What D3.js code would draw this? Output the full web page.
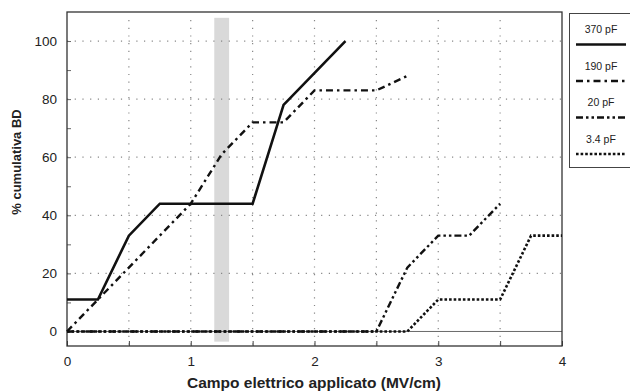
<!DOCTYPE html>
<html>
<head>
<meta charset="utf-8">
<script src="https://cdn.jsdelivr.net/npm/d3@7"></script>
<style>
  body { margin: 0; background: #fff; }
  text { font-family: "Liberation Sans", Arial, sans-serif; fill: #222; }
</style>
</head>
<body>
<svg id="chart" width="630" height="392"></svg>
<script>
// Data
const xTicks = [0, 1, 2, 3, 4];
const yTicks = [0, 20, 40, 60, 80, 100];
const band = [1.19, 1.31];

const s370 = [[0, 11], [0.25, 11], [0.5, 33], [0.75, 44], [1.5, 44], [1.75, 78], [2.25, 100]];
const s190 = [[0, 0], [0.25, 11], [0.5, 22], [0.75, 33], [1, 44], [1.25, 61], [1.5, 72], [1.75, 72], [2, 83], [2.5, 83], [2.75, 88]];
const s20 = [[0, 0], [2.5, 0], [2.75, 22], [3, 33], [3.25, 33], [3.5, 44]];
const s34 = [[0, 0], [2.75, 0], [3, 11], [3.5, 11], [3.75, 33], [4, 33]];

const seriesNames = ["370 pF", "190 pF", "20 pF", "3.4 pF"];
const seriesData = [s370, s190, s20, s34];
const dashes = ["none", "7,4,2.5,4", "7,3,2.5,3,2.5,3", "2.6,2"];
const widths = [2.6, 2.4, 2.4, 2.6];

// Chart config
const margin = {top: 12, right: 68, bottom: 46, left: 67};
const width = 630 - margin.left - margin.right;
const height = 392 - margin.top - margin.bottom;

const svg = d3.select("#chart");
const g = svg.append("g").attr("transform", "translate(" + margin.left + "," + margin.top + ")");

const xScale = d3.scaleLinear().domain([0, 4]).range([0, width]);
const yScale = d3.scaleLinear().domain([-5, 110]).range([height, 0]);

// shaded band
g.append("rect")
  .attr("x", xScale(band[0]))
  .attr("width", xScale(band[1]) - xScale(band[0]))
  .attr("y", yScale(108))
  .attr("height", yScale(-3.5) - yScale(108))
  .attr("fill", "#d9d9d9");

// dotted grid
g.append("g").selectAll("line.vg")
  .data(d3.range(0.5, 4, 0.5))
  .join("line")
  .attr("x1", d => xScale(d)).attr("x2", d => xScale(d))
  .attr("y1", 8).attr("y2", height)
  .attr("stroke", "#888").attr("stroke-width", 1.2)
  .attr("stroke-dasharray", "1.2,6.5");

g.append("g").selectAll("line.hg")
  .data([20, 40, 60, 80, 100])
  .join("line")
  .attr("x1", 0).attr("x2", width)
  .attr("y1", d => yScale(d)).attr("y2", d => yScale(d))
  .attr("stroke", "#888").attr("stroke-width", 1.2)
  .attr("stroke-dasharray", "1.2,6.5");

// zero line
g.append("line")
  .attr("x1", 0).attr("x2", width)
  .attr("y1", yScale(0)).attr("y2", yScale(0))
  .attr("stroke", "#444").attr("stroke-width", 0.8);

// axes with inward ticks
const xAxis = d3.axisBottom(xScale)
  .tickValues(d3.range(0, 4.01, 0.5))
  .tickSize(-5)
  .tickPadding(10)
  .tickFormat(d => xTicks.includes(d) ? d : "");
g.append("g").attr("transform", "translate(0," + height + ")").call(xAxis)
  .call(a => a.select(".domain").remove())
  .call(a => a.selectAll("text").attr("font-size", 13.5).attr("fill", "#222"))
  .call(a => a.selectAll("line").attr("stroke", "#444"));

const yAxis = d3.axisLeft(yScale)
  .tickValues(d3.range(0, 101, 10))
  .tickSize(-4)
  .tickPadding(10)
  .tickFormat(d => yTicks.includes(d) ? d : "");
g.append("g").call(yAxis)
  .call(a => a.select(".domain").remove())
  .call(a => a.selectAll("text").attr("font-size", 13.5).attr("fill", "#222"))
  .call(a => a.selectAll("line").attr("stroke", "#666"));

// frame
g.append("rect")
  .attr("width", width).attr("height", height)
  .attr("fill", "none").attr("stroke", "#333").attr("stroke-width", 1.3);

// lines
const lineGen = d3.line()
  .x(d => xScale(d[0]))
  .y(d => yScale(d[1]));

g.append("g").selectAll("path.series")
  .data(seriesData)
  .join("path")
  .attr("class", "series")
  .attr("fill", "none")
  .attr("stroke", "#111")
  .attr("stroke-width", (d, i) => widths[i])
  .attr("stroke-dasharray", (d, i) => dashes[i])
  .attr("d", d => lineGen(d));

// axis titles
svg.append("text")
  .attr("x", 314)
  .attr("y", 388)
  .attr("text-anchor", "middle")
  .attr("font-size", 15.5).attr("font-weight", "bold")
  .text("Campo elettrico applicato (MV/cm)");

svg.append("text")
  .attr("transform", "translate(21,162) rotate(-90)")
  .attr("text-anchor", "middle")
  .attr("font-size", 13).attr("font-weight", "bold")
  .text("% cumulativa BD");

// legend
const lg = svg.append("g");
lg.append("rect")
  .attr("x", 569.5).attr("y", 13.5)
  .attr("width", 80).attr("height", 154)
  .attr("fill", "#fff").attr("stroke", "#444").attr("stroke-width", 1);

const entries = lg.selectAll("g.entry")
  .data(seriesNames)
  .join("g")
  .attr("transform", (d, i) => "translate(0," + (i * 36.5) + ")");

entries.append("text")
  .attr("x", 601).attr("y", 33)
  .attr("text-anchor", "middle")
  .attr("font-size", 10.5)
  .text(d => d);

entries.append("line")
  .attr("x1", 576).attr("x2", 626)
  .attr("y1", 44.5).attr("y2", 44.5)
  .attr("stroke", "#111")
  .attr("stroke-width", (d, i) => widths[i])
  .attr("stroke-dasharray", (d, i) => dashes[i]);
</script>
</body>
</html>
